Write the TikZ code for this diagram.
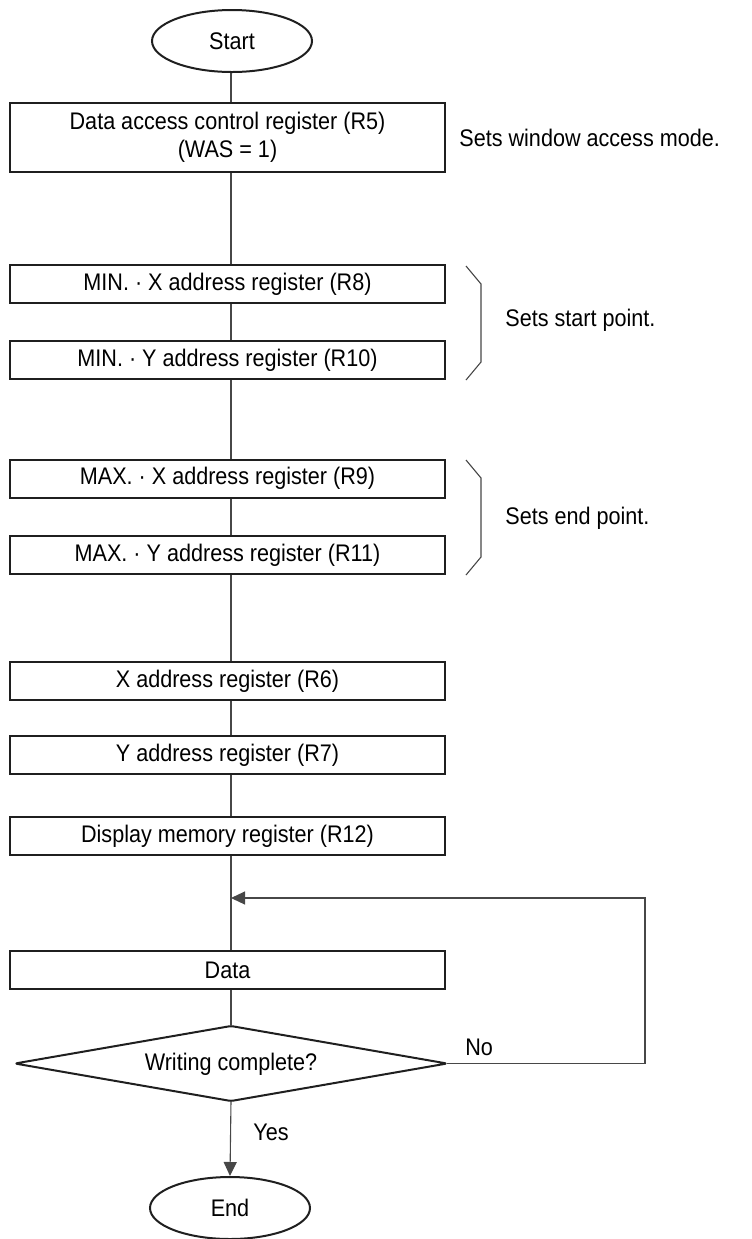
\documentclass[tikz,border=0pt]{standalone}
\usepackage{fontspec}
\setmainfont{Liberation Sans}[FakeStretch=0.9]
\usetikzlibrary{shapes.geometric,arrows.meta}
\begin{document}
\begin{tikzpicture}[x=0.5pt,y=-0.5pt,
  txt/.style={font=\fontsize{12}{14}\selectfont},
  proc/.style={txt,draw=black!88,line width=1pt,rectangle,minimum width=217.5pt,minimum height=19pt,inner sep=0pt,align=center},
  term/.style={txt,draw=black!88,line width=1pt,ellipse,minimum width=80pt,minimum height=31pt,inner sep=0pt},
  decline/.style={draw=black!88,line width=1pt,line join=round,rounded corners=1.2pt},
  conn/.style={draw=black!72,line width=0.55pt},
  arr/.style={conn,-{Triangle[length=7pt,width=6.5pt]}},
  note/.style={txt,anchor=west,inner sep=0pt},
  brace/.style={draw=black!72,line width=0.55pt}]
\useasboundingbox (0,0) rectangle (751,1239);
\coordinate (spine) at (231,0);
\node[term] (start) at (232,41) {Start};
\node[proc,minimum height=34.5pt] (b1) at (227.5,137.5) {Data access control register (R5)\\(WAS = 1)};
\node[proc] (minx) at (227.5,284) {MIN. · X address register (R8)};
\node[proc] (miny) at (227.5,360) {MIN. · Y address register (R10)};
\node[proc] (maxx) at (227.5,478.5) {MAX. · X address register (R9)};
\node[proc] (maxy) at (227.5,555) {MAX. · Y address register (R11)};
\node[proc] (xaddr) at (227.5,681) {X address register (R6)};
\node[proc] (yaddr) at (227.5,755) {Y address register (R7)};
\node[proc] (disp) at (227.5,836) {Display memory register (R12)};
\node[proc] (data) at (227.5,970) {Data};
% decision diamond
\coordinate (decN) at (231,1026);
\coordinate (decS) at (231,1101);
\coordinate (decE) at (447,1063.5);
\coordinate (decW) at (15,1063.5);
\draw[decline] (decN) -- (decE) -- (decS) -- (decW) -- cycle;
\node[txt,inner sep=0pt] (dec) at (231,1064) {Writing complete?};
\node[term] (end) at (230,1208) {End};
\node[note] (n1) at (459,138) {Sets window access mode.};
\node[note] (n2) at (505,320) {Sets start point.};
\node[note] (n3) at (505,518) {Sets end point.};
\node[note] (no) at (465,1047) {No};
\node[note] (yes) at (253,1132) {Yes};
\coordinate (loopr) at (645,898);
% braces
\draw[brace] (466,266) -- (481,284) -- (481,362) -- (466,380);
\draw[brace] (466,460) -- (481,478) -- (481,557) -- (466,575);
% connectors
\draw[conn] (start.south -| spine) -- (b1.north -| spine);
\draw[conn] (b1.south -| spine) -- (minx.north -| spine);
\draw[conn] (minx.south -| spine) -- (miny.north -| spine);
\draw[conn] (miny.south -| spine) -- (maxx.north -| spine);
\draw[conn] (maxx.south -| spine) -- (maxy.north -| spine);
\draw[conn] (maxy.south -| spine) -- (xaddr.north -| spine);
\draw[conn] (xaddr.south -| spine) -- (yaddr.north -| spine);
\draw[conn] (yaddr.south -| spine) -- (disp.north -| spine);
\draw[conn] (disp.south -| spine) -- (data.north -| spine);
\draw[conn] (data.south -| spine) -- (decN);
\draw[arr] (decS) -- (end.north);
\draw[arr] (decE) -| (loopr) -- (loopr -| spine);
\end{tikzpicture}
\end{document}
